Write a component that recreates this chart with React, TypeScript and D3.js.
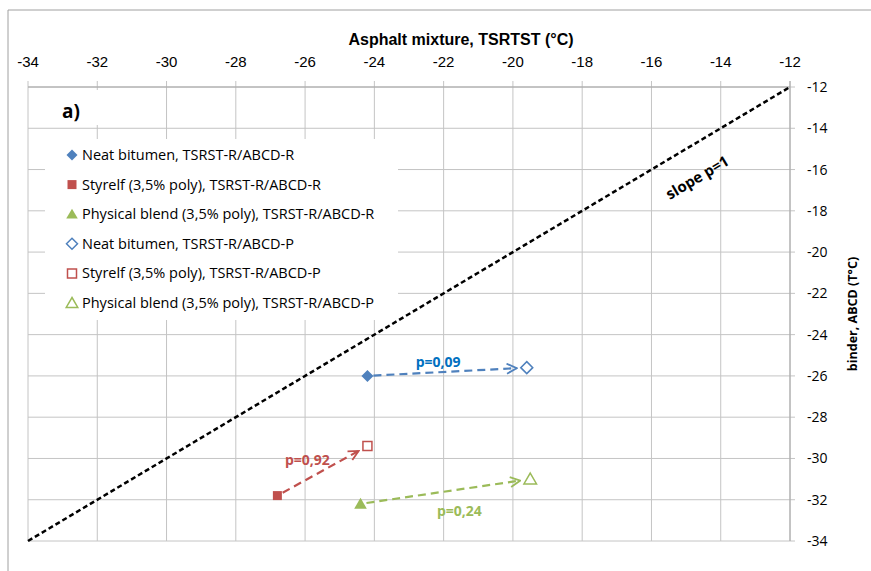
import React from "react";
import * as d3 from "d3";

const xTicks = [-34, -32, -30, -28, -26, -24, -22, -20, -18, -16, -14, -12];
const yTicks = [-12, -14, -16, -18, -20, -22, -24, -26, -28, -30, -32, -34];

const groups = ["Neat bitumen", "Styrelf (3,5% poly)", "Physical blend (3,5% poly)"];
const colors = ["#4f81bd", "#c0504d", "#9bbb59"];
const labelColors = ["#0070c0", "#c0504d", "#9bbb59"];
const shapes = ["diamond", "square", "triangle"];

// TSRST-R/ABCD-R
const rX = [-24.2, -26.8, -24.4];
const rY = [-26.0, -31.8, -32.2];
// TSRST-R/ABCD-P
const pX = [-19.6, -24.2, -19.5];
const pY = [-25.6, -29.4, -31.0];

const pLabels = ["p=0,09", "p=0,92", "p=0,24"];
const labelOffsets: [number, number][] = [[-9, -5], [-15, -6], [14, 25]];

const slopeLine = [-34, -12];

const W = 871;
const H = 571;
const m = { left: 28, right: 81, top: 87, bottom: 30 };

function shapePath(kind: string, r: number) {
  if (kind === "diamond") return `M0,${-r}L${r},0L0,${r}L${-r},0Z`;
  if (kind === "square") return `M${-r},${-r}H${r}V${r}H${-r}Z`;
  return `M0,${-r}L${r * 1.05},${r * 0.8}L${-r * 1.05},${r * 0.8}Z`;
}

export default function App() {
  const x = d3.scaleLinear().domain([-34, -12]).range([m.left, W - m.right]);
  const y = d3.scaleLinear().domain([-12, -34]).range([m.top, H - m.bottom]);
  const [x0, x1] = x.range();
  const [y0, y1] = y.range();

  const font = "'Open Sans', sans-serif";
  const narrow = "'Liberation Sans Narrow', 'Liberation Sans', sans-serif";

  const legendItems = [
    ...groups.map((g, i) => ({ name: `${g}, TSRST-R/ABCD-R`, i, filled: true })),
    ...groups.map((g, i) => ({ name: `${g}, TSRST-R/ABCD-P`, i, filled: false })),
  ];

  const slopeAngle = (Math.atan2(y(-12) - y(-34), x(-12) - x(-34)) * 180) / Math.PI;

  return (
    <svg width={W} height={H} style={{ position: "absolute", left: 0, top: 0, background: "#fff" }}>
      <defs>
        {colors.map((c, i) => (
          <marker key={i} id={`arr${i}`} viewBox="0 0 12 12" refX="11" refY="6"
            markerWidth="12" markerHeight="12" markerUnits="userSpaceOnUse" orient="auto">
            <path d="M1,1L11,6L1,11" fill="none" stroke={c} strokeWidth={1.8} />
          </marker>
        ))}
      </defs>
      {/* outer frame */}
      <path d={`M8,${H}V10H${W}`} fill="none" stroke="#a0a0a0" strokeWidth={1} />

      {/* grid */}
      <g stroke="#c4c4c4" strokeWidth={1}>
        {xTicks.map((t) => (
          <line key={"gx" + t} x1={x(t)} x2={x(t)} y1={y0 - 6} y2={y1} />
        ))}
        {yTicks.map((t) => (
          <line key={"gy" + t} x1={x0} x2={x1 + 5} y1={y(t)} y2={y(t)} />
        ))}
      </g>
      <line x1={x0} x2={x1} y1={y0} y2={y0} stroke="#a6a6a6" />
      <line x1={x1} x2={x1} y1={y0 - 6} y2={y1} stroke="#a6a6a6" />

      {/* top axis labels */}
      {xTicks.map((t) => (
        <text key={"tx" + t} x={x(t)} y={y0 - 20} textAnchor="middle" fontFamily={narrow} fontSize={15} fill="#000">
          {t}
        </text>
      ))}
      <text x={461} y={45} textAnchor="middle" fontFamily={narrow} fontWeight="bold" fontSize={16}>
        Asphalt mixture, TSRTST (°C)
      </text>

      {/* right axis labels */}
      {yTicks.map((t) => (
        <text key={"ty" + t} x={x1 + 17} y={y(t) + 5} fontFamily={font} fontSize={14} fill="#000">
          {t}
        </text>
      ))}
      <text transform={`translate(857,${(y0 + y1) / 2}) rotate(-90)`} textAnchor="middle"
        fontFamily={font} fontWeight="bold" fontSize={12.5}>
        binder, ABCD (T°C)
      </text>

      {/* slope p=1 */}
      <line x1={x(slopeLine[0])} y1={y(slopeLine[0])} x2={x(slopeLine[1])} y2={y(slopeLine[1])}
        stroke="#000" strokeWidth={2.5} strokeDasharray="5,3" />
      <text transform={`translate(700,182) rotate(${slopeAngle})`}
        textAnchor="middle" fontFamily={font} fontWeight="bold" fontSize={15}>
        slope p=1
      </text>

      {/* label boxes */}
      <rect x={45} y={90} width={105} height={35} fill="#fff" />
      <text x={62} y={118} fontFamily={font} fontWeight="bold" fontSize={19}>a)</text>
      <rect x={45} y={139} width={353} height={181} fill="#fff" />
      {legendItems.map((d, k) => (
        <g key={"lg" + k} transform={`translate(72,${155 + k * 29.6})`}>
          <path d={shapePath(shapes[d.i], d.i === 1 ? 4.5 : 5.5)}
            fill={d.filled ? colors[d.i] : "#fff"} stroke={colors[d.i]} strokeWidth={d.filled ? 0 : 1.5} />
          <text x={10} y={5} fontFamily={font} fontSize={14.5} fill="#000">{d.name}</text>
        </g>
      ))}

      {/* arrows */}
      {groups.map((g, i) => {
        const ax = x(rX[i]), ay = y(rY[i]), bx = x(pX[i]), by = y(pY[i]);
        const len = Math.hypot(bx - ax, by - ay);
        const ux = (bx - ax) / len, uy = (by - ay) / len;
        const s = 6, e = 10;
        return (
          <line key={"ar" + i} x1={ax + ux * s} y1={ay + uy * s} x2={bx - ux * e} y2={by - uy * e}
            stroke={colors[i]} strokeWidth={2.2} strokeDasharray="8,5" markerEnd={`url(#arr${i})`} />
        );
      })}

      {/* points */}
      {groups.map((g, i) => (
        <g key={"pt" + i}>
          <path transform={`translate(${x(rX[i])},${y(rY[i])})`} d={shapePath(shapes[i], i === 1 ? 4.5 : 6)}
            fill={colors[i]} />
          <path transform={`translate(${x(pX[i])},${y(pY[i])})`} d={shapePath(shapes[i], i === 1 ? 4.5 : 6)}
            fill="#fff" stroke={colors[i]} strokeWidth={1.5} />
        </g>
      ))}

      {/* p labels */}
      {groups.map((g, i) => {
        const mx = (x(rX[i]) + x(pX[i])) / 2 + labelOffsets[i][0];
        const my = (y(rY[i]) + y(pY[i])) / 2 + labelOffsets[i][1];
        return (
          <text key={"pl" + i} x={mx} y={my} textAnchor="middle" fontFamily={font} fontWeight="bold"
            fontSize={14} fill={labelColors[i]}>
            {pLabels[i]}
          </text>
        );
      })}
    </svg>
  );
}
